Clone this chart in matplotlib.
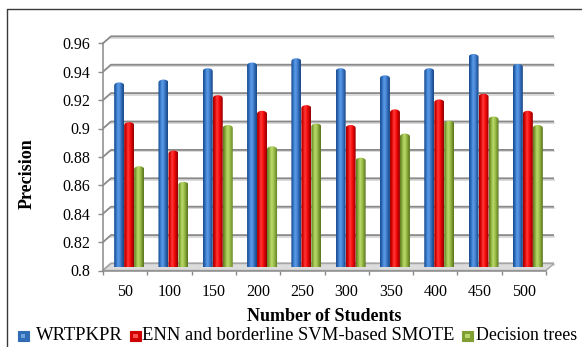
import numpy as np
import matplotlib
matplotlib.use("Agg")
import matplotlib.pyplot as plt
from matplotlib.path import Path
from matplotlib.patches import PathPatch, Polygon, Rectangle
from matplotlib.colors import LinearSegmentedColormap
from matplotlib.lines import Line2D

# ---- data -----------------------------------------------------------------
students = ["50", "100", "150", "200", "250", "300", "350", "400", "450", "500"]
wrtpkpr = [0.930, 0.932, 0.940, 0.944, 0.947, 0.940, 0.935, 0.940, 0.950, 0.943]
enn_smote = [0.902, 0.882, 0.921, 0.910, 0.914, 0.900, 0.911, 0.918, 0.922, 0.910]
decision_trees = [0.871, 0.860, 0.900, 0.885, 0.901, 0.877, 0.894, 0.903, 0.906, 0.900]
series_names = ["WRTPKPR", "ENN and borderline SVM-based SMOTE", "Decision trees"]
y_ticks = [0.80, 0.82, 0.84, 0.86, 0.88, 0.90, 0.92, 0.94, 0.96]
y_tick_labels = ["0.8", "0.82", "0.84", "0.86", "0.88", "0.9", "0.92", "0.94", "0.96"]

# ---- styling --------------------------------------------------------------
FONT = "Liberation Serif"
plt.rcParams["font.family"] = [FONT, "DejaVu Serif"]

shades = {
    "blue": ["#1b4a88", "#2d6cbd", "#5c9de8", "#4c88d6", "#2962ae", "#1a4680"],
    "red": ["#9a0000", "#e00000", "#ff4040", "#ff1010", "#cc0000", "#8c0000"],
    "green": ["#5c7620", "#88ac3a", "#bcdb6e", "#a3c552", "#7b9c31", "#56701f"],
}
legend_colors = [("#2f6cb5", "#6aa3e0"), ("#d00000", "#ff5050"), ("#7f9f33", "#b7d56a")]

W_PX, H_PX, DPI = 582, 347, 100
fig = plt.figure(figsize=(W_PX / DPI, H_PX / DPI), dpi=DPI)
fig.patch.set_facecolor("white")

# front plane of the 3-D box, in pixels
left_px, right_px = 103, 546
y0_px, y1_px = 270.5, 43.3
ax = fig.add_axes([left_px / W_PX, (H_PX - y0_px) / H_PX,
                   (right_px - left_px) / W_PX, (y0_px - y1_px) / H_PX])
ax.set_xlim(-0.5, len(students) - 0.5)
ax.set_ylim(0.80, 0.96)
ax.patch.set_alpha(0)
for s in ax.spines.values():
    s.set_visible(False)

# depth of the box in data units (about 8 px right, 7 px up)
px_x = (right_px - left_px) / len(students)
px_y = (y0_px - y1_px) / 0.16
DX = 8 / px_x
DY = 7 / px_y
x_lo, x_hi = -0.5, len(students) - 0.5

grid_col = "#8a8a8a"
# back wall gridlines + side wall slants
for v in y_ticks:
    ax.plot([x_lo + DX, x_hi + DX], [v + DY - 1.4 / px_y] * 2, color="#d4d4d4",
            lw=1.2, clip_on=False, zorder=0.9)
    ax.plot([x_lo, x_lo + DX, x_hi + DX], [v, v + DY, v + DY], color=grid_col,
            lw=1.3, clip_on=False, zorder=1, solid_capstyle="butt")

# floor
floor = Polygon([(x_lo, 0.8), (x_hi, 0.8), (x_hi + DX, 0.8 + DY), (x_lo + DX, 0.8 + DY)],
                closed=True, facecolor="#dcdcdc", edgecolor="#a6a6a6", lw=1.0,
                clip_on=False, zorder=1.5)
ax.add_patch(floor)
ax.plot([x_lo, x_hi], [0.8, 0.8], color="#8f8f8f", lw=1.1, clip_on=False, zorder=1.6)
# value axis line
ax.plot([x_lo, x_lo], [0.8, 0.96], color=grid_col, lw=1.1, clip_on=False, zorder=1.6)

# ---- cylinders ------------------------------------------------------------
bar_w = 10 / px_x
cap_h = 3.0 / px_y
x = np.arange(len(students))
series = [wrtpkpr, enn_smote, decision_trees]
keys = ["blue", "red", "green"]
for k, (vals, key) in enumerate(zip(series, keys)):
    pos = x + (k - 1) * bar_w + DX / 2
    bars = ax.bar(pos, np.array(vals) - 0.8, width=bar_w, bottom=0.8 + DY / 2,
                  color=shades[key][2], zorder=3)
    cmap = LinearSegmentedColormap.from_list(key, shades[key])
    grad = cmap(np.linspace(0, 1, 64))[None, :, :]
    for b in bars:
        bx, by, bw, bh = b.get_x(), b.get_y(), b.get_width(), b.get_height()
        top = by + bh
        t = np.linspace(0, np.pi, 25)
        arc = np.column_stack([bx + bw / 2 + bw / 2 * np.cos(t),
                               top - cap_h + cap_h * np.sin(t)])
        verts = np.vstack([[bx, by], [bx + bw, by], [bx + bw, top - cap_h], arc,
                           [bx, by]])
        clip = PathPatch(Path(verts, closed=True), transform=ax.transData,
                         facecolor="none", edgecolor="none")
        ax.add_patch(clip)
        im = ax.imshow(grad, extent=[bx, bx + bw, by, top], aspect="auto",
                       interpolation="bicubic", zorder=3.2)
        im.set_clip_path(clip)
        b.set_visible(False)

ax.set_xlim(x_lo, x_hi)
ax.set_ylim(0.80, 0.96)
ax.set_aspect("auto")

# ---- ticks ----------------------------------------------------------------
ax.set_yticks(y_ticks)
ax.set_yticklabels(y_tick_labels)
ax.tick_params(axis="y", length=3.6, width=1, color=grid_col, pad=5.5,
               labelsize=11.5)
ax.set_xticks(x)
ax.set_xticklabels(students)
ax.set_xticks(np.arange(len(students) + 1) - 0.5, minor=True)
ax.tick_params(axis="x", which="major", length=0, pad=9.5, labelsize=11.5)
ax.tick_params(axis="x", which="minor", length=3, width=1, color=grid_col)

# ---- titles ---------------------------------------------------------------
fig.text(27 / W_PX, 1 - 174 / H_PX, "Precision", rotation=90, ha="center",
         va="center", fontsize=13, fontweight="bold")
fig.text(324 / W_PX, 1 - 316.5 / H_PX, "Number of Students", ha="center",
         va="center", fontsize=13, fontweight="bold")

# ---- legend ---------------------------------------------------------------
legend_items = [(18, 36, 13.4), (130, 142, 13.4), (462, 476, 12.8)]
for (sq_x, tx, fs), name, (dark, light) in zip(legend_items, series_names, legend_colors):
    fig.add_artist(Rectangle((sq_x / W_PX, 1 - 341 / H_PX), 10.5 / W_PX, 10 / H_PX,
                             transform=fig.transFigure, facecolor=dark,
                             edgecolor=dark, lw=0.8))
    fig.add_artist(Rectangle(((sq_x + 3) / W_PX, 1 - 338 / H_PX), 4.5 / W_PX, 4 / H_PX,
                             transform=fig.transFigure, facecolor=light,
                             edgecolor="none"))
    fig.text(tx / W_PX, 1 - 340.5 / H_PX, name, ha="left", va="baseline",
             fontsize=fs)

# chart frame
fig.add_artist(Line2D([7 / W_PX, 7 / W_PX, 1.0], [0.0, 1 - 9 / H_PX, 1 - 9 / H_PX],
                      transform=fig.transFigure, color="#3a3a3a", lw=1.0))

fig.savefig("out.png", dpi=DPI, facecolor="white")
